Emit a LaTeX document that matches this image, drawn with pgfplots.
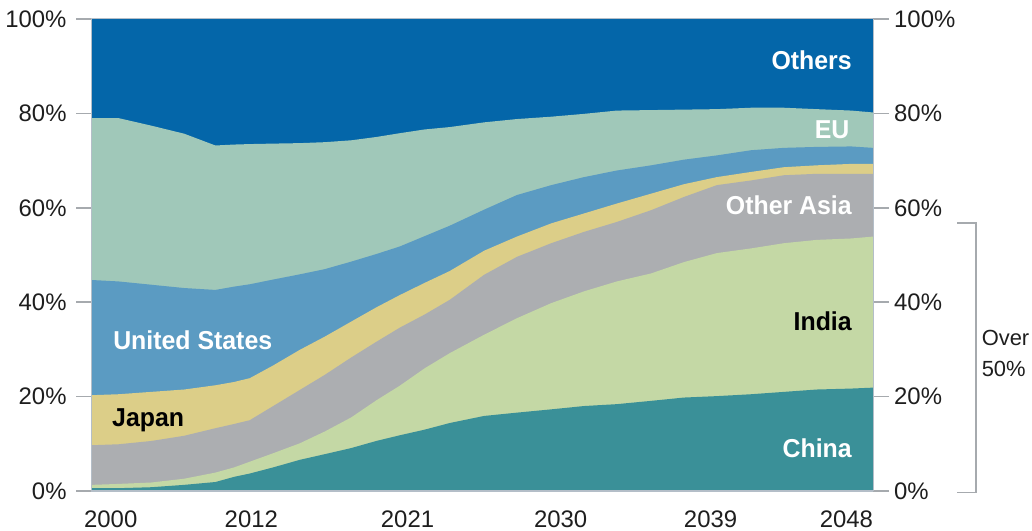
\documentclass[border=0pt]{standalone}
\usepackage{fontspec}
\setmainfont{Liberation Sans}
\newfontfamily\labelfont[FakeStretch=0.96]{Liberation Sans}
\usepackage{pgfplots}
\pgfplotsset{compat=1.18}
\usepackage{pgfplotstable}

\definecolor{cOthers}{HTML}{0466A9}
\definecolor{cEU}{HTML}{A0C8B9}
\definecolor{cUS}{HTML}{5B9BC2}
\definecolor{cJapan}{HTML}{DCCE88}
\definecolor{cOA}{HTML}{ACAEB1}
\definecolor{cIndia}{HTML}{C4D8A5}
\definecolor{cChina}{HTML}{3A9098}
\definecolor{tickgray}{HTML}{A6AAAE}
\definecolor{axisgray}{HTML}{B4BEC8}
\definecolor{textdark}{HTML}{1E1E1E}

% cumulative shares (top of each band), percent
\pgfplotstableread{
x      C     I     OA    J     US    EU    O
2000.0 0.6   1.3   9.7   20.3  44.7  79.0  100
2001.7 0.6   1.5   9.9   20.5  44.4  79.0  100
2003.8 0.8   1.8   10.6  21.0  43.7  77.4  100
2005.9 1.3   2.6   11.7  21.5  43.0  75.7  100
2007.9 1.9   3.9   13.3  22.4  42.6  73.2  100
2009.1 3.0   5.0   14.2  23.1  43.3  73.4  100
2010.1 3.7   6.2   15.0  23.9  43.8  73.5  100
2011.6 5.0   8.0   18.0  26.6  44.8  73.6  100
2013.3 6.6   10.1  21.4  29.9  45.9  73.7  100
2014.9 7.8   12.6  24.6  32.7  47.0  73.9  100
2016.6 9.1   15.6  28.3  35.9  48.6  74.3  100
2018.2 10.6  19.2  31.6  38.9  50.2  75.0  100
2019.7 11.8  22.3  34.6  41.5  51.8  75.8  100
2021.3 13.0  26.0  37.4  44.1  54.0  76.6  100
2022.9 14.4  29.2  40.5  46.6  56.2  77.1  100
2025.1 15.9  33.1  45.8  50.9  59.6  78.1  100
2027.2 16.6  36.6  49.6  53.9  62.7  78.8  100
2029.4 17.3  39.8  52.5  56.7  64.8  79.3  100
2031.5 18.0  42.3  54.9  58.8  66.5  79.9  100
2033.6 18.4  44.4  57.0  60.9  67.9  80.6  100
2035.8 19.1  46.1  59.5  63.0  69.0  80.7  100
2037.9 19.8  48.5  62.3  65.0  70.2  80.8  100
2040.0 20.1  50.4  64.8  66.5  71.1  80.9  100
2042.2 20.5  51.4  65.8  67.6  72.2  81.2  100
2044.3 21.0  52.5  66.9  68.6  72.7  81.2  100
2046.4 21.5  53.2  67.2  69.0  72.9  80.9  100
2048.6 21.7  53.5  67.2  69.3  73.0  80.6  100
2050.0 21.9  53.9  67.2  69.3  72.7  80.2  100
}\shares

\begin{document}
\begin{tikzpicture}
\useasboundingbox (-92bp,-40bp) rectangle (940bp,491bp);
\begin{axis}[
  scale only axis, width=781bp, height=472bp,
  xmin=2000, xmax=2050, ymin=0, ymax=100,
  clip=false, axis on top,
  xtick={2001.2,2010.2,2020.2,2030.0,2039.6,2048.3},
  xticklabels={2000,2012,2021,2030,2039,2048},
  xtick pos=bottom, x tick style={draw=none},
  xticklabel style={anchor=north, inner sep=0pt},
  xticklabel shift=3.2bp,
  ytick={0,20,40,60,80,100},
  yticklabels={0\%,20\%,40\%,60\%,80\%,100\%},
  ytick pos=left,
  y tick style={draw=tickgray, line width=1.5bp},
  major tick length=16bp, tick align=outside,
  yticklabel style={anchor=east, inner sep=0pt},
  yticklabel shift=9.3bp,
  ticklabel style={font=\fontsize{24}{28}\selectfont, text=textdark},
  axis line style={draw=axisgray, line width=1bp},
]
\addplot[fill=cOthers, draw=none] table[x=x, y=O] {\shares} \closedcycle;
\addplot[fill=cEU, draw=none] table[x=x, y=EU] {\shares} \closedcycle;
\addplot[fill=cUS, draw=none] table[x=x, y=US] {\shares} \closedcycle;
\addplot[fill=cJapan, draw=none] table[x=x, y=J] {\shares} \closedcycle;
\addplot[fill=cOA, draw=none] table[x=x, y=OA] {\shares} \closedcycle;
\addplot[fill=cIndia, draw=none] table[x=x, y=I] {\shares} \closedcycle;
\addplot[fill=cChina, draw=none] table[x=x, y=C] {\shares} \closedcycle;
\draw[axisgray, line width=2bp] (rel axis cs:0,0) -- (rel axis cs:1,0);

\tikzset{lbl/.style={inner sep=0pt, font=\labelfont\bfseries\fontsize{26}{30}\selectfont}}
\node[lbl, anchor=base east, text=white] at (axis cs:2048.65,89.2) {Others};
\node[lbl, anchor=base east, text=white] at (axis cs:2048.5,74.6) {EU};
\node[lbl, anchor=base east, text=white] at (axis cs:2048.65,58.5) {Other Asia};
\node[lbl, anchor=base east, text=black] at (axis cs:2048.65,34.1) {India};
\node[lbl, anchor=base east, text=white] at (axis cs:2048.65,7.0) {China};
\node[lbl, anchor=base west, text=white] at (axis cs:2001.35,29.9) {United States};
\node[lbl, anchor=base west, text=black] at (axis cs:2001.28,13.6) {Japan};

\draw[tickgray, line width=1.5bp] (axis cs:2055.4,56.8) -- (axis cs:2056.6,56.8) -- (axis cs:2056.6,-0.3) -- (axis cs:2055.4,-0.3);
\node[anchor=base west, inner sep=0pt, text=textdark, font=\fontsize{22}{26}\selectfont] at (axis cs:2056.95,30.9) {Over};
\node[anchor=base west, inner sep=0pt, text=textdark, font=\fontsize{22}{26}\selectfont] at (axis cs:2056.95,24.2) {50\%};
\end{axis}
\begin{axis}[
  scale only axis, width=781bp, height=472bp,
  xmin=2000, xmax=2050, ymin=0, ymax=100,
  axis x line=none, axis y line*=right,
  ytick={0,20,40,60,80,100},
  yticklabels={0\%,20\%,40\%,60\%,80\%,100\%},
  y tick style={draw=tickgray, line width=1.5bp},
  major tick length=16bp, tick align=outside,
  yticklabel style={anchor=west, inner sep=0pt},
  yticklabel shift=5bp,
  ticklabel style={font=\fontsize{24}{28}\selectfont, text=textdark},
  axis line style={draw=axisgray, line width=1bp},
]
\end{axis}
\end{tikzpicture}
\end{document}
